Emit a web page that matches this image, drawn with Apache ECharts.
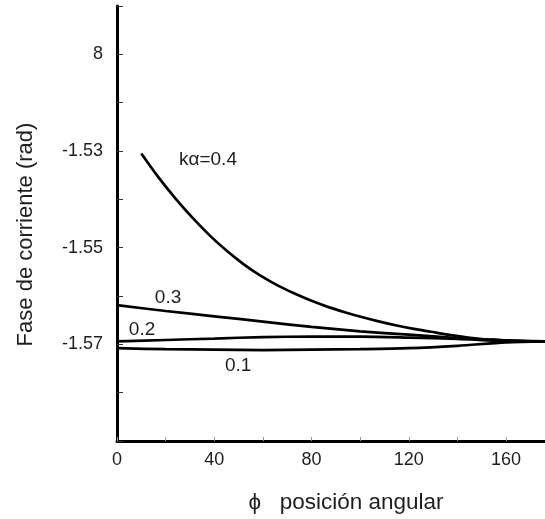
<!DOCTYPE html>
<html>
<head>
<meta charset="utf-8">
<script src="https://cdn.jsdelivr.net/npm/echarts@6/dist/echarts.min.js"></script>
<style>html,body{margin:0;padding:0;background:#fff}#c{width:545px;height:519px}</style>
</head>
<body>
<div id="c"></div>
<script>
// Data
const ka04X = [10, 17, 24, 31, 38, 45, 52, 59, 66, 73, 80, 87, 94, 101, 108, 115, 122, 129, 136, 143, 150, 157, 164, 171, 176];
const ka04Y = [-1.5305, -1.5354, -1.5398, -1.5438, -1.5474, -1.5506, -1.5534, -1.5558, -1.5578, -1.5595, -1.5610, -1.5623, -1.5634, -1.5644, -1.5653, -1.5661, -1.5668, -1.5674, -1.5680, -1.5685, -1.5689, -1.5691, -1.5693, -1.5694, -1.5694];
const ka03X = [0, 20, 40, 60, 80, 100, 120, 140, 160, 176];
const ka03Y = [-1.5619, -1.5631, -1.5642, -1.5653, -1.5664, -1.5673, -1.5680, -1.5687, -1.5692, -1.5694];
const ka02X = [0, 20, 40, 60, 80, 100, 120, 140, 160, 176];
const ka02Y = [-1.5694, -1.5691, -1.5688, -1.5685, -1.5684, -1.5684, -1.5686, -1.5689, -1.5693, -1.5694];
const ka01X = [0, 20, 40, 60, 80, 100, 120, 140, 160, 176];
const ka01Y = [-1.5708, -1.5710, -1.5711, -1.5712, -1.5711, -1.5710, -1.5708, -1.5703, -1.5696, -1.5694];

const curveNames = ['kα=0.4', '0.3', '0.2', '0.1'];
const labelX = [37.4, 21, 10.3, 49.8];
const labelY = [-1.5318, -1.5603, -1.5669, -1.5745];

const yLabelValues = [-1.57, -1.55, -1.53, -1.51];
const yLabelTexts = ['-1.57', '-1.55', '-1.53', '8'];
const xTitle = 'ϕ   posición angular';
const yTitle = 'Fase de corriente (rad)';

const FONT = '"Liberation Sans", Arial, sans-serif';
const TXT = '#1e1e1e';

function zip(xs, ys) { return xs.map((x, i) => [x, ys[i]]); }
const allX = [ka04X, ka03X, ka02X, ka01X];
const allY = [ka04Y, ka03Y, ka02Y, ka01Y];

const series = allX.map((xs, i) => ({
  type: 'line',
  name: curveNames[i],
  data: zip(xs, allY[i]),
  smooth: 0.3,
  showSymbol: false,
  lineStyle: { color: '#000', width: 2.7 },
  z: 3,
  markPoint: {
    symbol: 'circle', symbolSize: 0,
    data: [{ coord: [labelX[i], labelY[i]] }],
    label: { show: true, position: 'inside', formatter: curveNames[i],
      color: TXT, fontSize: 19, fontFamily: FONT }
  }
}));

const chart = echarts.init(document.getElementById('c'));
chart.setOption({
  animation: false,
  backgroundColor: '#fff',
  grid: { left: 117, right: 0, top: 6, bottom: 77, containLabel: false },
  xAxis: {
    type: 'value', min: 0, max: 176, interval: 20,
    name: xTitle, nameLocation: 'middle', nameGap: 50,
    nameTextStyle: { color: TXT, fontSize: 22.5, fontFamily: FONT, padding: [0, 0, 0, 30] },
    axisLine: { lineStyle: { color: '#000', width: 3 } },
    axisTick: { inside: true, length: 4, lineStyle: { color: '#999', width: 1 } },
    axisLabel: { color: TXT, fontSize: 18, fontFamily: FONT, margin: 10, showMaxLabel: false,
      formatter: v => (Math.round(v) % 40 === 0 ? String(Math.round(v)) : '') },
    splitLine: { show: false }
  },
  yAxis: {
    type: 'value', min: -1.59, max: -1.50, interval: 0.01,
    name: yTitle, nameLocation: 'middle', nameGap: 80, nameRotate: 90,
    nameTextStyle: { color: TXT, fontSize: 22, fontFamily: FONT, padding: [0, 22, 0, 0] },
    axisLine: { lineStyle: { color: '#000', width: 3 } },
    axisTick: { inside: true, length: 6, lineStyle: { color: '#333', width: 1 } },
    axisLabel: { color: TXT, fontSize: 18, fontFamily: FONT, margin: 14, showMinLabel: true,
      formatter: v => {
        const k = Math.round(v * 100);
        const idx = yLabelValues.findIndex(t => Math.round(t * 100) === k);
        return idx >= 0 ? yLabelTexts[idx] : '';
      } },
    splitLine: { show: false }
  },
  series: series
});
</script>
</body>
</html>
